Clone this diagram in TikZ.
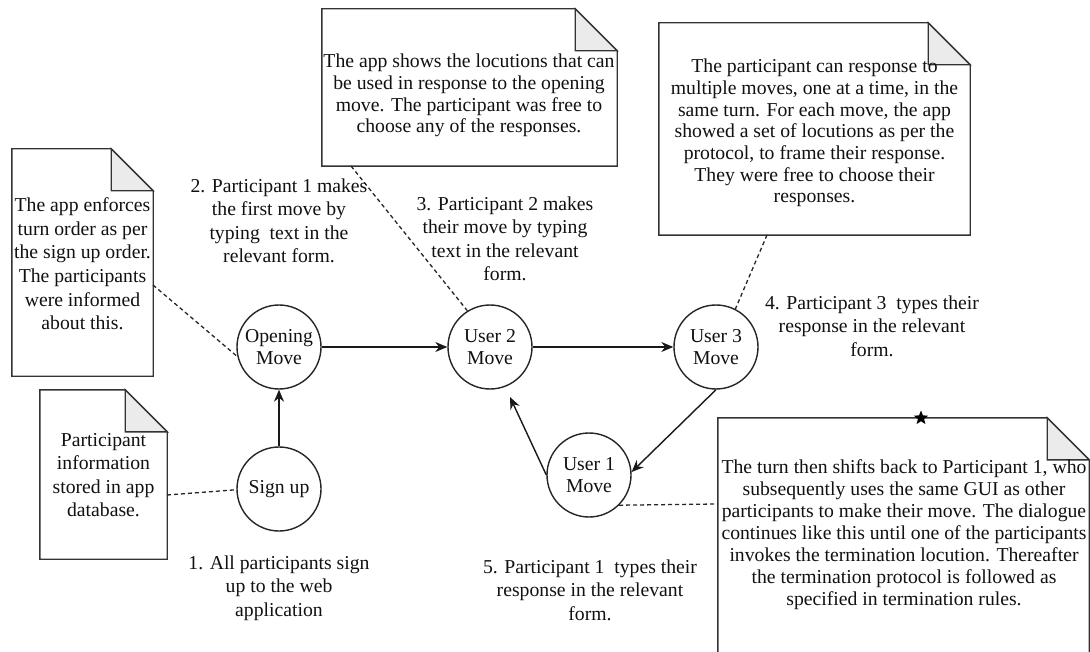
\documentclass[tikz,border=0pt]{standalone}
\usepackage{fontspec}
\setmainfont{Liberation Serif}
\usetikzlibrary{arrows.meta,shapes.geometric}
\definecolor{foldgray}{HTML}{EBEBEB}
\definecolor{ink}{HTML}{111111}
\newcommand\notedraw[1]{%
  \draw[notestroke, fill=white] (#1.south west) -- (#1.north west) -- ([xshift=-42pt]#1.north east) -- ([yshift=-42pt]#1.north east) -- (#1.south east) -- cycle;
  \draw[notestroke, fill=foldgray] ([xshift=-42pt]#1.north east) -- ([xshift=-42pt,yshift=-42pt]#1.north east) -- ([yshift=-42pt]#1.north east) -- cycle;
}
\begin{document}
\begin{tikzpicture}[x=1pt,y=-1pt,
  notestroke/.style={draw=black!80, line width=1.4pt, line join=miter},
  notebox/.style={rectangle, draw=none, inner sep=0pt},
  state/.style={circle, draw=black!85, line width=1.4pt, minimum size=84pt, inner sep=0pt, align=center, text=ink, font=\fontsize{19.7}{21.7}\selectfont, fill=white},
  flow/.style={draw=black!90, line width=1.4pt, -{Stealth[length=12pt,width=10pt]}},
  link/.style={draw=black!85, line width=1.3pt, dash pattern=on 4pt off 3pt},
  steplabel/.style={align=center, inner sep=0pt, text=ink, font=\fontsize{19.7}{23.5}\selectfont},
  notetext/.style={align=center, inner sep=0pt, text=ink, font=\fontsize{19.7}{21.7}\selectfont},
]
\useasboundingbox (0,0) rectangle (1090,652);
\fill[white] (0,0) rectangle (1090,652);
\clip (0,0) rectangle (1090,652);

% notes
\node[notebox, minimum width=141pt, minimum height=227pt] (nTL) at (82.5,262.5) {};
\node[notebox, minimum width=127pt, minimum height=169pt] (nBL) at (103.5,474.5) {};
\node[notebox, minimum width=295pt, minimum height=157pt] (nTM) at (469.5,87.5) {};
\node[notebox, minimum width=311pt, minimum height=212pt] (nTR) at (814.5,129) {};
\node[notebox, minimum width=371pt, minimum height=262pt] (nBR) at (903.5,549) {};
\notedraw{nTL}
\notedraw{nBL}
\notedraw{nTM}
\notedraw{nTR}
\notedraw{nBR}

\node[notetext, font=\fontsize{19.7}{23.6}\selectfont] (tTL) at (82.5,264) {The app enforces\\turn order as per\\the sign up order.\\The participants\\were informed\\about this.};
\node[notetext, font=\fontsize{19.7}{23.3}\selectfont] (tBL) at (103.5,475) {Participant\\information\\stored in app\\database.};
\node[notetext] (tTM) at (469,95.5) {The app shows the locutions that can\\be used in response to the opening\\move. The participant was free to\\choose any of the responses.};
\node[notetext] (tTR) at (814.5,133) {The participant can response to\\multiple moves, one at a time, in the\\same turn. For each move, the app\\showed a set of locutions as per the\\protocol, to frame their response.\\They were free to choose their\\responses.};
\node[notetext, font=\fontsize{19.7}{22}\selectfont] (tBR) at (904,534.5) {The turn then shifts back to Participant 1, who\\subsequently uses the same GUI as other\\participants to make their move. The dialogue\\continues like this until one of the participants\\invokes the termination locution. Thereafter\\the termination protocol is followed as\\specified in termination rules.};
\node[star, star points=5, star point ratio=2.3, fill=black, draw=none, inner sep=0pt, minimum size=15pt] (mk) at (921,418) {};

% states
\node[state] (op) at (279,347) {Opening\\Move};
\node[state] (su) at (279,489) {Sign up};
\node[state] (u2) at (490,347) {User 2\\Move};
\node[state] (u3) at (716,347) {User 3\\Move};
\node[state] (u1) at (589,475) {User 1\\Move};

% attach points
\coordinate (aTL) at (153,285);
\coordinate (aBL) at (167,495);
\coordinate (aTM) at (351,166);
\coordinate (aTR) at (767,235);
\coordinate (aBR) at (718,504);
\coordinate (u2end) at (510,397);

\draw[link] (aTL) -- (op.193);
\draw[link] (aBL) -- (su.181);
\draw[link] (aTM) -- (u2.122);
\draw[link] (aTR) -- (u3.63);
\draw[link] (u1.-45) -- (aBR);

\draw[flow] (su) -- (op);
\draw[flow] (op) -- (u2);
\draw[flow] (u2) -- (u3);
\draw[flow] (u3.south) -- (u1.4);
\draw[flow] (u1.west) -- (u2end);

% labels
\node[steplabel] (l1) at (279,588) {1. All participants sign\\up to the web\\application};
\node[steplabel] (l2) at (279,221) {2. Participant 1 makes\\the first move by\\typing\ \ text in the\\relevant form.};
\node[steplabel] (l3) at (505,239) {3. Participant 2 makes\\their move by typing\\text in the relevant\\form.};
\node[steplabel] (l4) at (872,326) {4. Participant 3\ \ types their\\response in the relevant\\form.};
\node[steplabel] (l5) at (590,590) {5. Participant 1\ \ types their\\response in the relevant\\form.};
\end{tikzpicture}
\end{document}
